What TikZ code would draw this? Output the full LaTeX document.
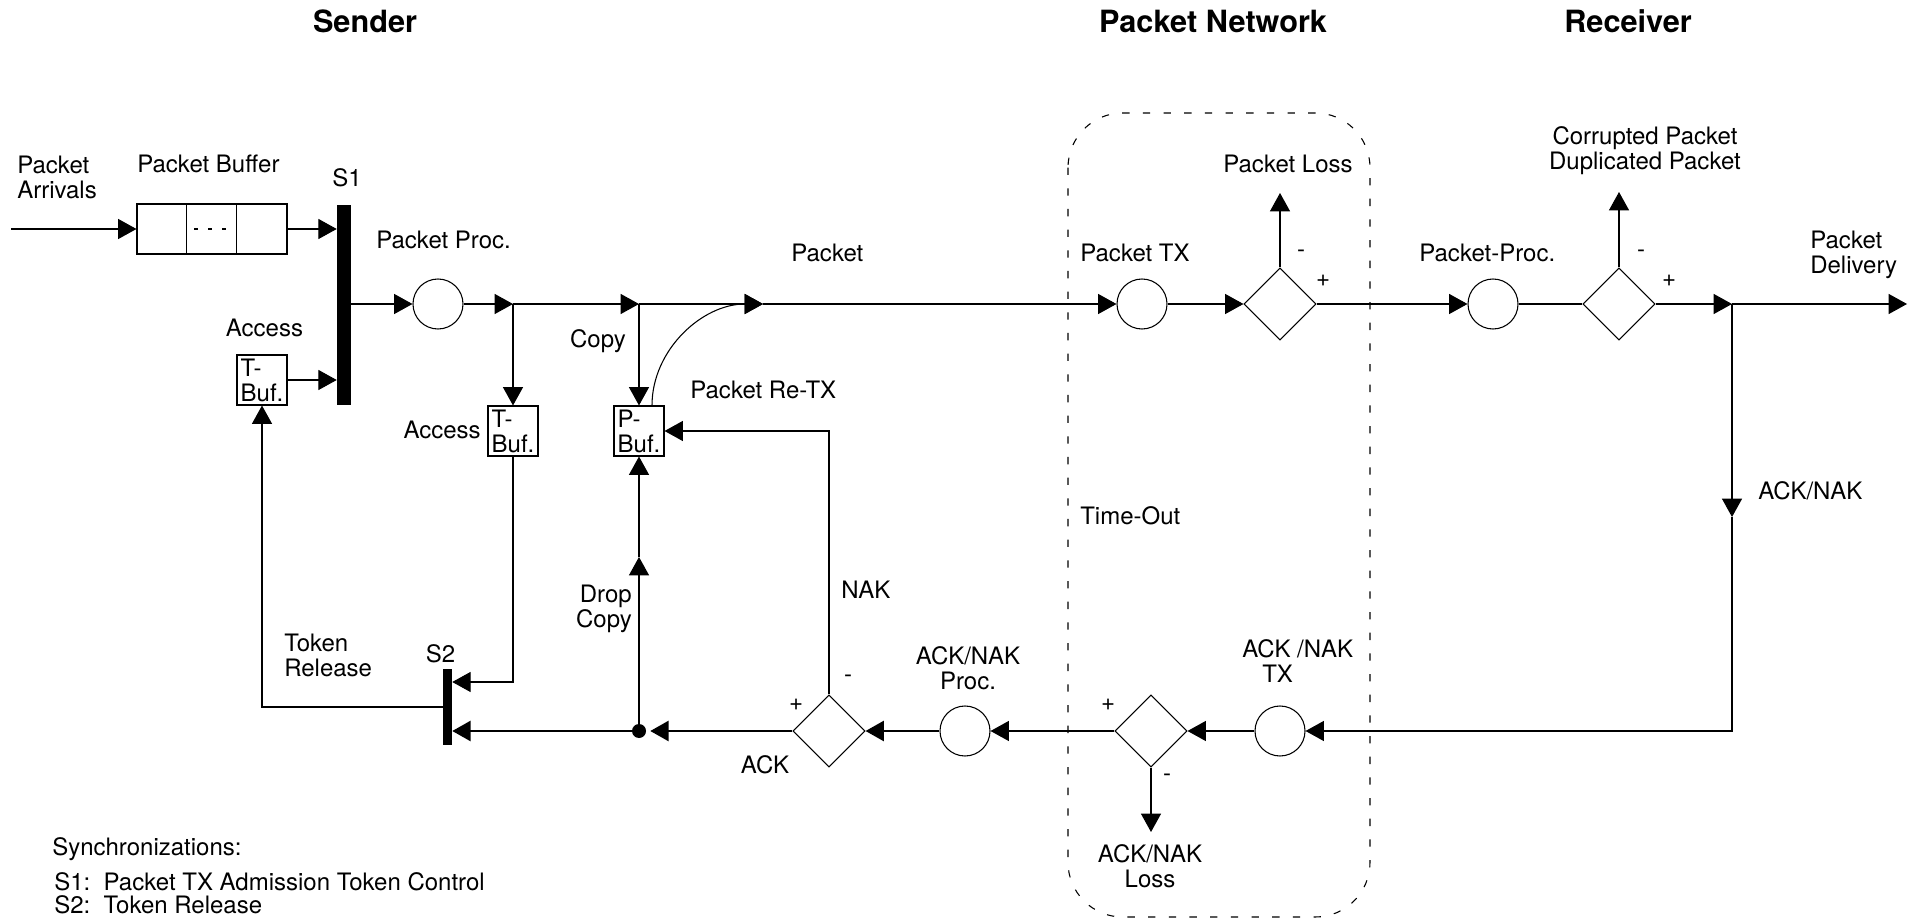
\documentclass[tikz,border=0pt]{standalone}
\usepackage{fontspec}
\setmainfont{TeX Gyre Heros}
\usetikzlibrary{arrows.meta,shapes.geometric}
\newcommand\lblfont{\fontsize{18}{18.75}\selectfont}
\newcommand\ttlfont{\fontsize{23}{27}\selectfont\bfseries}
\begin{document}
\begin{tikzpicture}[x=0.75pt,y=-0.75pt,
  every node/.style={inner sep=0pt, font=\lblfont},
  ln/.style={line width=0.8pt},
  arr/.style={ln, -{Triangle[length=13.75pt,width=15pt]}},
  thk/.style={line width=1.9pt},
  proc/.style={circle, draw, ln, minimum size=37.5pt},
  gate/.style={diamond, draw, ln, minimum width=54pt, minimum height=54pt},
  tbox/.style={draw, ln, minimum width=37.5pt, minimum height=37.5pt, align=left, inner sep=1.5pt},
  bar/.style={fill=black, draw=none, rectangle},
  ttl/.style={font=\ttlfont, anchor=base},
  sgn/.style={font=\lblfont},
  net/.style={ln, dash pattern=on 5.5pt off 10pt, rounded corners=41pt}
]
\useasboundingbox (0,0) rectangle (1917,919);
% network region
\draw[net] (1068,113) rectangle (1370,917);

% nodes
\node[draw, ln, minimum width=112.5pt, minimum height=37.5pt] (buf) at (212,229) {};
\draw[ln] ([xshift=37.5pt]buf.north west) -- ([xshift=37.5pt]buf.south west);
\draw[ln] ([xshift=75pt]buf.north west) -- ([xshift=75pt]buf.south west);
\draw[ln, dash pattern=on 3pt off 7.5pt] ([xshift=-13.5pt]buf.center) -- ([xshift=14pt]buf.center);
\node[bar, minimum width=10.5pt, minimum height=150pt] (s1) at (344,305) {};
\node[tbox] (tb1) at (262,380) {T-\\Buf.};
\node[proc] (c1) at (438,304) {};
\coordinate (j1) at (513,304);
\node[tbox] (tb2) at (513,431) {T-\\Buf.};
\coordinate (j2) at (639,304);
\node[tbox] (pb) at (639,431) {P-\\Buf.};
\coordinate (j3) at (763,304);
\node[proc] (c2) at (1142,304) {};
\node[gate] (d1) at (1280,304) {};
\coordinate (o1) at (1280,193);
\node[proc] (c3) at (1493,304) {};
\node[gate] (d2) at (1619,304) {};
\coordinate (o2) at (1619,192);
\coordinate (j4) at (1732,304);
\coordinate (out) at (1907,304);
\coordinate (am) at (1732,517);
\node[proc] (c4) at (1280,731) {};
\node[gate] (d3) at (1151,731) {};
\coordinate (o3) at (1151,832);
\node[proc] (c5) at (965,731) {};
\node[gate] (d4) at (829,731) {};
\node[circle, fill=black, minimum size=10.5pt] (dot) at (639,731) {};
\coordinate (dm) at (639,557);
\node[bar, minimum width=6.75pt, minimum height=57pt] (s2) at (447.5,707) {};
\coordinate (in) at (11,229);

% connectors
\draw[arr] (in) -- (buf.west);
\draw[arr] (buf.east) -- (buf.east -| s1.west);
\draw[arr] (tb1.east) -- (tb1.east -| s1.west);
\draw[arr] (s1.east |- c1.west) -- (c1.west);
\draw[arr] (c1.east) -- (j1);
\draw[arr] (j1) -- (tb2.north);
\draw[arr] (j1) -- (j2);
\draw[arr] (j2) -- (pb.north);
\draw[arr] (j2) -- (j3);
\draw[arr] (j3) -- (c2.west);
\draw[arr] ([xshift=9.75pt]pb.north) .. controls (652,350) and (702,304) .. (j3);
\draw[arr] (c2.east) -- (d1.west);
\draw[arr] (d1.north) -- (o1);
\draw[arr] (d1.east) -- (c3.west);
\draw[ln] (c3.east) -- (d2.west);
\draw[arr] (d2.north) -- (o2);
\draw[arr] (d2.east) -- (j4);
\draw[arr] (j4) -- (out);
\draw[arr] (j4) -- (am);
\draw[arr] (am) |- (c4.east);
\draw[arr] (c4.west) -- (d3.east);
\draw[arr] (d3.south) -- (o3);
\draw[arr] (d3.west) -- (c5.east);
\draw[arr, thk] (c5.west) -- (d4.east);
\draw[arr, thk] (d4.west) -- ([xshift=3pt]dot.east);
\draw[arr, thk] (dot.west) -- (dot.west -| s2.east);
\draw[arr] (dot.north) -- (dm);
\draw[arr] (dm) -- (pb.south);
\draw[arr] (d4.north) |- (pb.east);
\draw[arr] (tb2.south) |- ([yshift=18.75pt]s2.east);
\draw[arr] (s2.west) -| (tb1.south);

% titles
\node[ttl] (tS) at (365,33) {Sender};
\node[ttl] (tN) at (1213,33) {Packet Network};
\node[ttl] (tR) at (1628,33) {Receiver};

% labels
\node[anchor=north west, align=left] (lArr) at (17,155.5) {Packet\\Arrivals};
\node[anchor=base west] (lBuf) at (137,173) {Packet Buffer};
\node[anchor=base] (lS1) at (347,187) {S1};
\node[anchor=base west] (lPP) at (376,249) {Packet Proc.};
\node[anchor=base] (lAc1) at (264.5,337) {Access};
\node[anchor=base east] (lAc2) at (481,439) {Access};
\node[anchor=base east] (lCopy) at (626,348) {Copy};
\node[anchor=base west] (lPkt) at (791,262) {Packet};
\node[anchor=base west] (lRe) at (690,399) {Packet Re-TX};
\node[anchor=base west] (lTX) at (1080,262) {Packet TX};
\node[anchor=base west] (lLoss) at (1223,173) {Packet Loss};
\node[anchor=base west] (lPP2) at (1419,262) {Packet-Proc.};
\node[anchor=north, align=center] (lCor) at (1645,126.5) {Corrupted Packet\\Duplicated Packet};
\node[anchor=north west, align=left] (lDel) at (1810,230.5) {Packet\\Delivery};
\node[anchor=base west] (lAN) at (1758,500) {ACK/NAK};
\node[anchor=base west] (lTO) at (1080,525) {Time-Out};
\node[anchor=base west] (lNAK) at (841,598) {NAK};
\node[anchor=north, align=center] (lANP) at (968,646.5) {ACK/NAK\\Proc.};
\node[anchor=north west, align=left] (lANT) at (1242,639.5) {ACK /NAK\\\hspace*{15pt}TX};
\node[anchor=north, align=center] (lANL) at (1150,844.5) {ACK/NAK\\Loss};
\node[anchor=north east, align=right] (lDrop) at (632,584.5) {Drop\\Copy};
\node[anchor=north west, align=left] (lTok) at (284,633.5) {Token\\Release};
\node[anchor=base] (lS2) at (440.5,662) {S2};
\node[anchor=base] (lACK) at (765,773) {ACK};

% signs
\node[sgn] (m1) at (1301,254) {-};
\node[sgn] (p1) at (1323,281) {+};
\node[sgn] (m2) at (1641,254) {-};
\node[sgn] (p2) at (1669,281) {+};
\node[sgn] (p3) at (1108,705) {+};
\node[sgn] (m3) at (1167,778) {-};
\node[sgn] (p4) at (796,705) {+};
\node[sgn] (m4) at (848,679) {-};

% legend
\node[anchor=base west] (sync) at (52,855) {Synchronizations:};
\node[anchor=base west] (sy1) at (54,890) {S1:~~Packet TX Admission Token Control};
\node[anchor=base west] (sy2) at (54,913) {S2:~~Token Release};
\end{tikzpicture}
\end{document}
